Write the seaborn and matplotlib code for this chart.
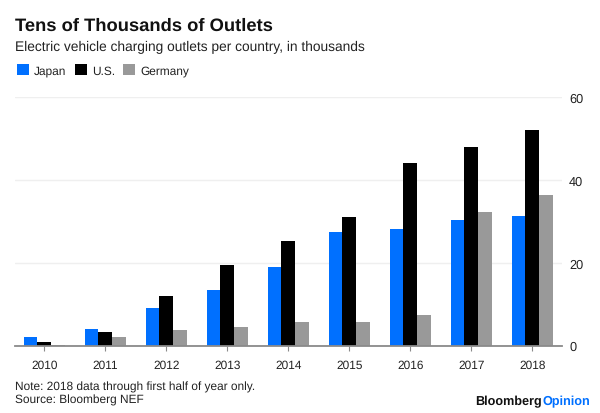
#!/usr/bin/env python3
# -*- coding: utf-8 -*-
import matplotlib
matplotlib.use("Agg")
import matplotlib.pyplot as plt
import pandas as pd
import seaborn as sns

YEARS = ["2010", "2011", "2012", "2013", "2014", "2015", "2016", "2017", "2018"]
JAPAN = [2.0, 4.1, 9.0, 13.3, 19.0, 27.5, 28.2, 30.3, 31.2]
US = [0.8, 3.3, 11.9, 19.5, 25.2, 31.1, 44.1, 48.0, 51.9]
GERMANY = [0.1, 2.1, 3.7, 4.5, 5.7, 5.7, 7.4, 32.3, 36.4]
Y_TICKS = [0, 20, 40, 60]

COLORES = {"Japan": "#0070ff", "U.S.": "#000000", "Germany": "#999999"}

sns.set_theme(style="white")
plt.rcParams["font.family"] = ["Liberation Sans", "DejaVu Sans"]
plt.rcParams["text.hinting"] = "none"

df = pd.DataFrame({
    "year": YEARS * 3,
    "country": ["Japan"] * 9 + ["U.S."] * 9 + ["Germany"] * 9,
    "value": JAPAN + US + GERMANY,
})

W, H = 600, 414
fig = plt.figure(figsize=(W / 100, H / 100), dpi=100)
ax = fig.add_axes([15 / W, (H - 346.6) / H, 546.5 / W, 248.7 / H])

sns.barplot(data=df, x="year", y="value", hue="country", palette=COLORES,
            width=0.67, gap=0, saturation=1, errorbar=None, linewidth=0,
            ax=ax, zorder=3)

ax.set_xlim(-0.48, 8.479)
ax.set_ylim(0, 60)
ax.set_xlabel("")
ax.set_ylabel("")
ax.set_yticks(Y_TICKS)
ax.yaxis.tick_right()
ax.grid(axis="y", color="#efefef", linewidth=1)
ax.set_axisbelow(True)
sns.despine(ax=ax, left=True, right=True, top=True)
ax.spines["bottom"].set_color("#8a8a8a")
ax.spines["bottom"].set_linewidth(1.3)
ax.spines["bottom"].set_zorder(5)
ax.tick_params(axis="x", length=3.5, width=0.8, color="#8a8a8a", labelsize=8.6,
               labelcolor="#222222", pad=6, bottom=True)
ax.tick_params(axis="y", length=0, labelsize=9.2, labelcolor="#222222", pad=5.5)

# leyenda arriba, en una fila
handles, labels = ax.get_legend_handles_labels()
ax.get_legend().remove()
fig.legend(handles, labels, ncol=3, frameon=False, loc="upper left",
           bbox_to_anchor=(12 / W, 1 - 60.5 / H), fontsize=8.6,
           handlelength=1.0, handleheight=1.0, handletextpad=0.45,
           columnspacing=0.68, labelcolor="#222222", borderpad=0.4, borderaxespad=0)

fig.text(15 / W, 1 - 31 / H, "Tens of Thousands of Outlets", fontsize=13.25,
         fontweight="bold", color="#111111", va="baseline")
fig.text(15 / W, 1 - 51 / H, "Electric vehicle charging outlets per country, in thousands",
         fontsize=9.95, color="#222222", va="baseline")
fig.text(15 / W, 1 - 391 / H, "Note: 2018 data through first half of year only.",
         fontsize=8.52, color="#222222", va="baseline")
fig.text(15 / W, 1 - 404 / H, "Source: Bloomberg NEF",
         fontsize=8.52, color="#222222", va="baseline")
fig.text(542 / W, 1 - 405 / H, "Bloomberg", fontsize=9.1, fontweight="bold",
         color="#111111", va="baseline", ha="right")
fig.text(542 / W, 1 - 405 / H, "Opinion", fontsize=9.1, fontweight="bold",
         color="#0070ff", va="baseline", ha="left")

fig.savefig("out.png", dpi=100)
